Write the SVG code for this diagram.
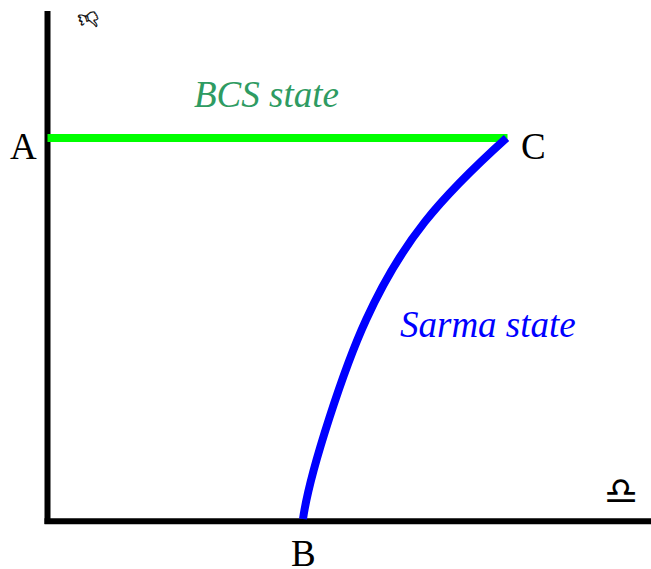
<svg xmlns="http://www.w3.org/2000/svg" width="651" height="569" viewBox="0 0 651 569">
<style>
.lab{font-family:"Liberation Serif",serif;font-size:37px;fill:#000}
.it{font-family:"Liberation Serif",serif;font-size:37px;font-style:italic}
.sym{font-family:"DejaVu Sans","Noto Sans",sans-serif;fill:#000}
.line{fill:none;stroke-linecap:butt}
</style>
<rect width="651" height="569" fill="#fff"/>
<g id="connectors">
<path class="line" d="M47.500 11V524" stroke="#000" stroke-width="6"/>
<path class="line" d="M44.500 521.300H651" stroke="#000" stroke-width="6"/>
<path class="line" d="M47.500 138H507.500" stroke="#00ff00" stroke-width="8"/>
<path class="line" d="M303 519C310 470 345 365.700 366 320C402 241 440 198 506.500 138" stroke="#0000ff" stroke-width="8"/>
</g>
<g id="axis-y-label"><text class="sym" x="0" y="4.500" font-size="25" text-anchor="middle" stroke="#000" stroke-width="0.35" transform="translate(89 20) rotate(-20) scale(0.8 1)">👎︎</text></g>
<g id="axis-x-label"><text class="sym" x="621" y="504" font-size="38" text-anchor="middle">♎</text></g>
<g id="node-A"><text class="lab" x="10" y="159">A</text></g>
<g id="node-B"><text class="lab" x="291" y="566">B</text></g>
<g id="node-C"><text class="lab" x="521" y="159">C</text></g>
<g id="label-bcs"><text class="it" x="194" y="107" fill="#2e9b62">BCS state</text></g>
<g id="label-sarma"><text class="it" x="400" y="337" fill="#0000ff">Sarma state</text></g>
</svg>
